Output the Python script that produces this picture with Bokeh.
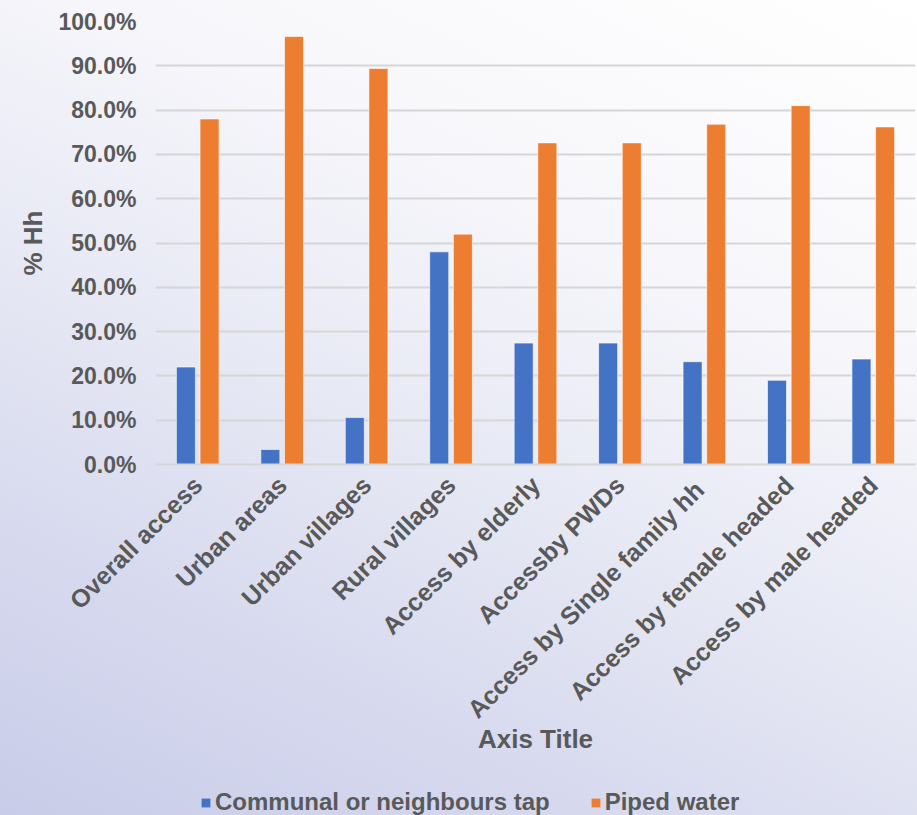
import math

from bokeh.embed import file_html
from bokeh.layouts import column
from bokeh.models import (ColumnDataSource, FactorRange, FixedTicker, Legend,
                          LegendItem, NumeralTickFormatter, Range1d)
from bokeh.plotting import figure
from bokeh.resources import INLINE
from bokeh.transform import dodge

# Household water access by group (share of households)
categories = [
    "Overall access",
    "Urban areas",
    "Urban villages",
    "Rural villages",
    "Access by elderly",
    "Accessby PWDs",
    "Access by Single family  hh",
    "Access by female headed",
    "Access by male headed",
]
communal_tap = [0.220, 0.034, 0.106, 0.480, 0.274, 0.274, 0.232, 0.190, 0.238]
piped_water = [0.780, 0.966, 0.894, 0.520, 0.726, 0.726, 0.768, 0.810, 0.762]
y_ticks = [0.0, 0.1, 0.2, 0.3, 0.4, 0.5, 0.6, 0.7, 0.8, 0.9, 1.0]

series_names = ["Communal or neighbours tap", "Piped water"]
series_colors = ["#4472C4", "#ED7D31"]

TEXT = "#595959"
FONT = "Liberation Sans"

source = ColumnDataSource(dict(cat=categories, tap=communal_tap, piped=piped_water))

p = figure(
    width=917,
    height=780,
    x_range=FactorRange(*categories, range_padding=0),
    y_range=Range1d(0, 1),
    output_backend="svg",
    toolbar_location=None,
    min_border_left=155,
    min_border_right=2,
    min_border_top=21,
    min_border_bottom=316,
)
p.border_fill_color = None
p.background_fill_color = None
p.outline_line_color = None

bar_style = dict(width=0.225, line_color="white", line_alpha=0.6, line_width=1)
p.vbar(x=dodge("cat", -0.14, range=p.x_range), top="tap", source=source,
       fill_color=series_colors[0], **bar_style)
p.vbar(x=dodge("cat", 0.14, range=p.x_range), top="piped", source=source,
       fill_color=series_colors[1], **bar_style)

# y axis
p.yaxis.ticker = FixedTicker(ticks=y_ticks)
p.yaxis.formatter = NumeralTickFormatter(format="0.0%")
p.yaxis.axis_line_color = None
p.yaxis.major_tick_line_color = None
p.yaxis.minor_tick_line_color = None
p.yaxis.major_label_standoff = 13
p.yaxis.major_label_text_font = FONT
p.yaxis.major_label_text_font_style = "bold"
p.yaxis.major_label_text_font_size = "23px"
p.yaxis.major_label_text_color = TEXT
p.yaxis.axis_label = "% Hh"
p.yaxis.axis_label_text_font = FONT
p.yaxis.axis_label_text_font_style = "bold"
p.yaxis.axis_label_text_font_size = "26px"
p.yaxis.axis_label_text_color = TEXT
p.yaxis.axis_label_standoff = 7

# x axis
p.xaxis.axis_line_color = "#d6d6d6"
p.xaxis.axis_line_width = 2
p.xaxis.major_tick_line_color = None
p.xaxis.minor_tick_line_color = None
p.xaxis.major_label_orientation = math.pi / 4
p.xaxis.major_label_standoff = 10
p.xaxis.major_label_text_font = FONT
p.xaxis.major_label_text_font_style = "bold"
p.xaxis.major_label_text_font_size = "25px"
p.xaxis.major_label_text_color = TEXT
p.xaxis.axis_label = "Axis Title"
p.xaxis.axis_label_text_font = FONT
p.xaxis.axis_label_text_font_style = "bold"
p.xaxis.axis_label_text_font_size = "26px"
p.xaxis.axis_label_text_color = TEXT
p.xaxis.axis_label_standoff = -12

# grid
p.xgrid.grid_line_color = None
p.ygrid.grid_line_color = "#d6d6d6"
p.ygrid.grid_line_width = 2

# legend strip underneath the chart (its frame lines up with the chart's frame)
key = figure(
    width=917,
    height=35,
    x_range=p.x_range,
    y_range=Range1d(0, 1),
    x_axis_location=None,
    y_axis_location=None,
    output_backend="svg",
    toolbar_location=None,
    min_border=0,
)
key.border_fill_color = None
key.background_fill_color = None
key.outline_line_color = None
key.grid.visible = False

# hidden copies of the two series; they only supply the legend swatches
sw_tap = key.vbar(x=dodge("cat", -0.14, range=key.x_range), top="tap", source=source,
                  width=0.225, fill_color=series_colors[0], line_color=None,
                  visible=False)
sw_piped = key.vbar(x=dodge("cat", 0.14, range=key.x_range), top="piped", source=source,
                    width=0.225, fill_color=series_colors[1], line_color=None,
                    visible=False)

legend = Legend(
    items=[LegendItem(label=series_names[0], renderers=[sw_tap]),
           LegendItem(label=series_names[1], renderers=[sw_piped])],
    location=(45, -1),
    orientation="horizontal",
    background_fill_alpha=0,
    border_line_alpha=0,
    inactive_fill_alpha=0,
    padding=0,
    margin=0,
    spacing=40,
    glyph_width=11,
    glyph_height=11,
    label_standoff=4,
    label_text_font=FONT,
    label_text_font_style="bold",
    label_text_font_size="24px",
    label_text_color=TEXT,
)
key.add_layout(legend)

page = column(p, key, spacing=0)
# pale lavender wash, white at the top and deepening toward the lower left
page.styles = {
    "background": "linear-gradient(205deg, #ffffff 0%, #f7f7fb 30%, "
                  "#e6e8f4 55%, #d6d9ee 78%, #c8cce8 100%)"
}

open("out.html", "w").write(file_html(page, INLINE))
